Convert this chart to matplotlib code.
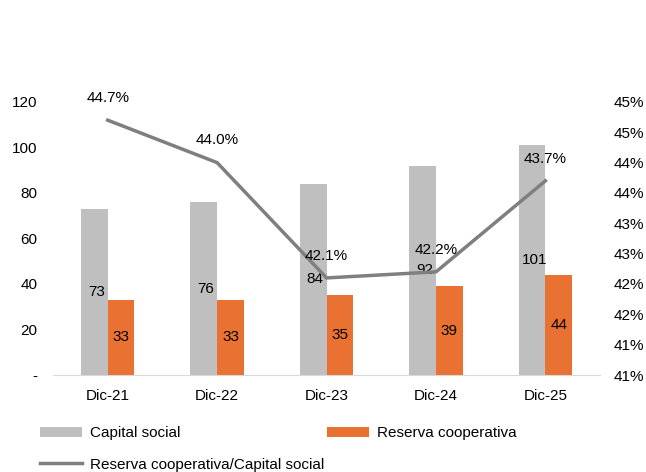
import numpy as np
import matplotlib.pyplot as plt
from matplotlib.ticker import FuncFormatter

plt.rcParams['font.family'] = ['Liberation Sans', 'DejaVu Sans']
plt.rcParams['font.size'] = 11

cats = ['Dic-21', 'Dic-22', 'Dic-23', 'Dic-24', 'Dic-25']
capital = [73, 76, 84, 92, 101]
reserva = [33, 33, 35, 39, 44]
ratio = [44.7, 44.0, 42.1, 42.2, 43.7]

gris = '#bfbfbf'
naranja = '#e97132'
linea = '#7f7f7f'

fig = plt.figure(figsize=(6.46, 4.72), dpi=100)
ax = fig.add_axes([0.082, 0.2055, 0.847, 0.5785])
x = np.arange(len(cats))
w = 0.245

b1 = ax.bar(x - w/2, capital, w, color=gris, label='Capital social')
b2 = ax.bar(x + w/2, reserva, w, color=naranja, label='Reserva cooperativa')
for r, v in zip(b1, capital):
    ax.text(r.get_x() + r.get_width()/2 + 0.02, v/2, str(v), ha='center', va='center')
for r, v in zip(b2, reserva):
    ax.text(r.get_x() + r.get_width()/2, v/2, str(v), ha='center', va='center')

ax.set_xlim(-0.5, len(cats) - 0.5)
ax.set_ylim(0, 120)
ax.set_yticks(np.arange(0, 121, 20))
ax.yaxis.set_major_formatter(FuncFormatter(lambda v, p: '-' if v == 0 else f'{v:.0f}'))
ax.set_xticks(x)
ax.set_xticklabels(cats)
for s in ['top', 'right', 'left']:
    ax.spines[s].set_visible(False)
ax.spines['bottom'].set_color('#d9d9d9')
ax.tick_params(length=0)
ax.tick_params(axis='y', pad=11)
ax.tick_params(axis='x', pad=10)

ax2 = ax.twinx()
ln, = ax2.plot(x, ratio, color=linea, lw=2.5, label='Reserva cooperativa/Capital social')
for xi, v in zip(x, ratio):
    ax2.text(xi, v + 0.25, f'{v:.1f}%', ha='center', va='bottom')
ax2.set_ylim(40.5, 45.0)
ax2.set_yticks(np.arange(40.5, 45.01, 0.5))
ax2.yaxis.set_major_formatter(FuncFormatter(lambda v, p: f'{int(v + 0.5)}%'))
for s in ax2.spines.values():
    s.set_visible(False)
ax2.tick_params(length=0, pad=9.5)

fig.legend([b1, ln, b2], ['Capital social', 'Reserva cooperativa/Capital social', 'Reserva cooperativa'],
           ncol=2, loc='upper left', bbox_to_anchor=(0.062, 0.097), frameon=False,
           handlelength=2.75, handletextpad=0.5, columnspacing=0.2, labelspacing=1.15,
           borderaxespad=0, borderpad=0)

fig.savefig('out.png', dpi=100)
